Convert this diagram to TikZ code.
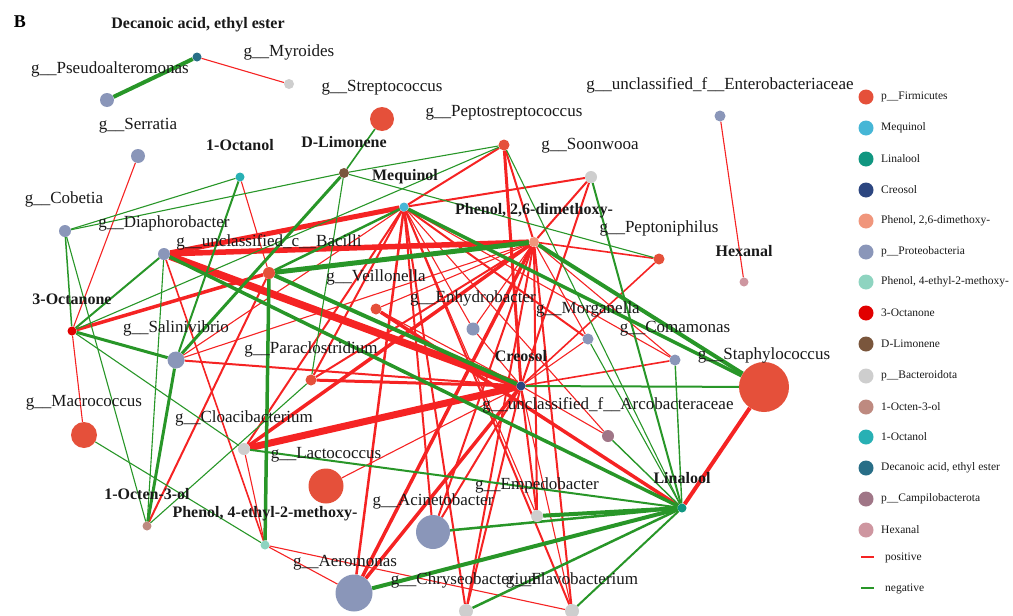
\documentclass[tikz,border=0pt]{standalone}
\usepackage{fontspec}
\setmainfont{Liberation Serif}
\usetikzlibrary{backgrounds}
\definecolor{firmc}{RGB}{229,80,58}
\definecolor{protc}{RGB}{138,150,185}
\definecolor{bactc}{RGB}{206,206,206}
\definecolor{campc}{RGB}{160,118,135}
\definecolor{meqc}{RGB}{70,182,214}
\definecolor{linc}{RGB}{16,150,128}
\definecolor{crec}{RGB}{44,70,128}
\definecolor{dmpc}{RGB}{240,150,124}
\definecolor{ethc}{RGB}{142,212,192}
\definecolor{ocnc}{RGB}{225,0,0}
\definecolor{limc}{RGB}{122,86,60}
\definecolor{oenc}{RGB}{190,138,128}
\definecolor{octc}{RGB}{40,176,180}
\definecolor{decc}{RGB}{40,110,135}
\definecolor{hexc}{RGB}{206,150,160}
\definecolor{posc}{RGB}{245,35,35}
\definecolor{negc}{RGB}{40,150,40}
\definecolor{txtc}{RGB}{25,25,25}
\tikzset{
  vtx/.style={circle, inner sep=0pt, minimum size=#1},
  vtx/.default=10pt,
  gen/.style={font=\fontsize{17}{19}\selectfont, text=txtc, inner sep=0pt},
  cpd/.style={font=\fontsize{16}{18}\selectfont\bfseries, text=txtc, inner sep=0pt},
  key/.style={font=\fontsize{11.5}{13}\selectfont, text=txtc, inner sep=0pt, anchor=west},
  posedge/.style={draw=posc, line width=#1},
  posedge/.default=1.1pt,
  negedge/.style={draw=negc, line width=#1},
  negedge/.default=1.1pt
}

\begin{document}
\begin{tikzpicture}[x=1pt,y=-1pt]
  \useasboundingbox (0,0) rectangle (1013,616);
  \node[font=\fontsize{18}{20}\selectfont\bfseries, inner sep=0pt] (figB) at (20,22) {B};

  % compounds
  \node[vtx=9pt, fill=decc] (dec) at (197,57) {};
  \node[vtx=9pt, fill=hexc] (hex) at (744,282) {};
  \node[vtx=9pt, fill=octc] (oct) at (240,177) {};
  \node[vtx=10pt, fill=limc] (lim) at (344,173) {};
  \node[vtx=9pt, fill=meqc] (meq) at (404,207) {};
  \node[vtx=10pt, fill=dmpc] (dmp) at (534,242) {};
  \node[vtx=9pt, fill=ocnc] (ocn) at (72,331) {};
  \node[vtx=9pt, fill=crec] (cre) at (521,386) {};
  \node[vtx=9pt, fill=linc] (lin) at (682,508) {};
  \node[vtx=9pt, fill=oenc] (oen) at (147,526) {};
  \node[vtx=9pt, fill=ethc] (eth) at (265,545) {};

  % genera
  \node[vtx=10pt, fill=bactc] (myr) at (289,84) {};
  \node[vtx=14pt, fill=protc] (pse) at (107,100) {};
  \node[vtx=14pt, fill=protc] (ser) at (138,156) {};
  \node[vtx=24pt, fill=firmc] (str) at (382,119) {};
  \node[vtx=11pt, fill=firmc] (pep) at (504,145) {};
  \node[vtx=11pt, fill=protc] (ent) at (720,116) {};
  \node[vtx=12pt, fill=bactc] (soo) at (591,177) {};
  \node[vtx=11pt, fill=firmc] (ptn) at (659,259) {};
  \node[vtx=12pt, fill=protc] (cob) at (65,231) {};
  \node[vtx=12pt, fill=protc] (dia) at (164,254) {};
  \node[vtx=12pt, fill=firmc] (bac) at (269,273) {};
  \node[vtx=11pt, fill=firmc] (vei) at (376,309) {};
  \node[vtx=13pt, fill=protc] (enh) at (473,329) {};
  \node[vtx=11pt, fill=protc] (mor) at (588,339) {};
  \node[vtx=11pt, fill=protc] (com) at (675,360) {};
  \node[vtx=50pt, fill=firmc] (sta) at (764,387) {};
  \node[vtx=17pt, fill=protc] (sal) at (176,360) {};
  \node[vtx=11pt, fill=firmc] (par) at (311,380) {};
  \node[vtx=12pt, fill=campc] (arc) at (608,436) {};
  \node[vtx=26pt, fill=firmc] (mac) at (84,435) {};
  \node[vtx=12pt, fill=bactc] (clo) at (244,449) {};
  \node[vtx=35pt, fill=firmc] (lac) at (326,486) {};
  \node[vtx=12pt, fill=bactc] (emp) at (537,516) {};
  \node[vtx=34pt, fill=protc] (aci) at (433,532) {};
  \node[vtx=37pt, fill=protc] (aer) at (354,593) {};
  \node[vtx=14pt, fill=bactc] (chr) at (466,611) {};
  \node[vtx=14pt, fill=bactc] (fla) at (572,611) {};

  % labels
  \node[cpd] (tdec) at (198,25) {Decanoic acid, ethyl ester};
  \node[cpd] (thex) at (744,251) {Hexanal};
  \node[cpd] (toct) at (240,145) {1-Octanol};
  \node[cpd] (tlim) at (344,142) {D-Limonene};
  \node[cpd] (tmeq) at (405,177) {Mequinol};
  \node[cpd] (tdmp) at (534,211) {Phenol, 2,6-dimethoxy-};
  \node[cpd] (tocn) at (72,299) {3-Octanone};
  \node[cpd] (tcre) at (521,356) {Creosol};
  \node[cpd] (tlin) at (682,478) {Linalool};
  \node[cpd] (toen) at (147,494) {1-Octen-3-ol};
  \node[cpd] (teth) at (265,514) {Phenol, 4-ethyl-2-methoxy-};
  \node[gen] (tmyr) at (289,52) {g\_\_Myroides};
  \node[gen] (tpse) at (110,69) {g\_\_Pseudoalteromonas};
  \node[gen] (tser) at (138,126) {g\_\_Serratia};
  \node[gen] (tstr) at (382,88) {g\_\_Streptococcus};
  \node[gen] (tpep) at (504,113) {g\_\_Peptostreptococcus};
  \node[gen] (tent) at (720,85) {g\_\_unclassified\_f\_\_Enterobacteriaceae};
  \node[gen] (tsoo) at (590,146) {g\_\_Soonwooa};
  \node[gen] (tptn) at (659,228) {g\_\_Peptoniphilus};
  \node[gen] (tcob) at (64,199) {g\_\_Cobetia};
  \node[gen] (tdia) at (164,223) {g\_\_Diaphorobacter};
  \node[gen] (tbac) at (269,242) {g\_\_unclassified\_c\_\_Bacilli};
  \node[gen] (tvei) at (376,277) {g\_\_Veillonella};
  \node[gen] (tenh) at (473,298) {g\_\_Enhydrobacter};
  \node[gen] (tmor) at (588,309) {g\_\_Morganella};
  \node[gen] (tcom) at (675,329) {g\_\_Comamonas};
  \node[gen] (tsta) at (764,355) {g\_\_Staphylococcus};
  \node[gen] (tsal) at (176,328) {g\_\_Salinivibrio};
  \node[gen] (tpar) at (311,349) {g\_\_Paraclostridium};
  \node[gen] (tarc) at (608,405) {g\_\_unclassified\_f\_\_Arcobacteraceae};
  \node[gen] (tmac) at (84,403) {g\_\_Macrococcus};
  \node[gen] (tclo) at (244,418) {g\_\_Cloacibacterium};
  \node[gen] (tlac) at (326,455) {g\_\_Lactococcus};
  \node[gen] (temp) at (537,485) {g\_\_Empedobacter};
  \node[gen] (taci) at (433,501) {g\_\_Acinetobacter};
  \node[gen] (taer) at (345,563) {g\_\_Aeromonas};
  \node[gen] (tchr) at (466,580) {g\_\_Chryseobacterium};
  \node[gen] (tfla) at (572,580) {g\_\_Flavobacterium};

  \begin{scope}[on background layer]
    % positive
    \draw[posedge] (dec) -- (myr);
    \draw[posedge] (hex) -- (ent);
    \draw[posedge] (ser) -- (ocn);
    \draw[posedge] (ocn) -- (mac);
    \draw[posedge=3.5pt] (ocn) -- (bac);
    \draw[posedge] (oct) -- (bac);
    \draw[posedge=2pt] (oen) -- (bac);
    \draw[posedge=1.6pt] (dia) -- (eth);
    \draw[posedge] (clo) -- (eth);
    \draw[posedge] (eth) -- (aer);
    \draw[posedge] (eth) -- (fla);
    \draw[posedge=5pt] (dia) -- (meq);
    \draw[posedge=5.5pt] (dia) -- (dmp);
    \draw[posedge=7.5pt] (dia) -- (cre);
    \draw[posedge=2pt] (meq) -- (soo);
    \draw[posedge=2pt] (meq) -- (pep);
    \draw[posedge=2pt] (meq) -- (mor);
    \draw[posedge] (meq) -- (com);
    \draw[posedge] (meq) -- (enh);
    \draw[posedge=2pt] (meq) -- (clo);
    \draw[posedge=2.5pt] (meq) -- (aer);
    \draw[posedge=2pt] (meq) -- (chr);
    \draw[posedge=2pt] (meq) -- (fla);
    \draw[posedge] (meq) -- (emp);
    \draw[posedge=2pt] (meq) -- (par);
    \draw[posedge] (meq) -- (arc);
    \draw[posedge] (meq) -- (sal);
    \draw[posedge=2pt] (meq) -- (aci);
    \draw[posedge=2pt] (dmp) -- (soo);
    \draw[posedge=2pt] (dmp) -- (pep);
    \draw[posedge=1.6pt] (dmp) -- (ptn);
    \draw[posedge] (dmp) -- (mor);
    \draw[posedge] (dmp) -- (com);
    \draw[posedge] (dmp) -- (enh);
    \draw[posedge] (dmp) -- (sal);
    \draw[posedge] (dmp) -- (vei);
    \draw[posedge=3.5pt] (dmp) -- (clo);
    \draw[posedge=3.5pt] (dmp) -- (aer);
    \draw[posedge=2pt] (dmp) -- (aci);
    \draw[posedge=2pt] (dmp) -- (emp);
    \draw[posedge=2pt] (dmp) -- (chr);
    \draw[posedge=2pt] (dmp) -- (fla);
    \draw[posedge=2pt] (dmp) -- (par);
    \draw[posedge=7pt] (cre) -- (clo);
    \draw[posedge=2pt] (cre) -- (sal);
    \draw[posedge=3pt] (cre) -- (par);
    \draw[posedge] (cre) -- (vei);
    \draw[posedge] (cre) -- (enh);
    \draw[posedge] (cre) -- (mor);
    \draw[posedge=1.6pt] (cre) -- (com);
    \draw[posedge=1.6pt] (cre) -- (ptn);
    \draw[posedge=3pt] (cre) -- (pep);
    \draw[posedge=2pt] (cre) -- (soo);
    \draw[posedge] (cre) -- (lac);
    \draw[posedge] (cre) -- (arc);
    \draw[posedge=3.5pt] (cre) -- (aer);
    \draw[posedge=2pt] (cre) -- (aci);
    \draw[posedge=2pt] (cre) -- (chr);
    \draw[posedge=2pt] (cre) -- (emp);
    \draw[posedge] (cre) -- (fla);
    \draw[posedge=3.5pt] (vei) -- (lin);
    \draw[posedge=4pt] (lin) -- (sta);
    % negative
    \draw[negedge=4pt] (dec) -- (pse);
    \draw[negedge] (cob) -- (oct);
    \draw[negedge] (cob) -- (lim);
    \draw[negedge=1.5pt] (cob) -- (ocn);
    \draw[negedge] (cob) -- (oen);
    \draw[negedge=2pt] (ocn) -- (dia);
    \draw[negedge=3pt] (ocn) -- (sal);
    \draw[negedge] (ocn) -- (clo);
    \draw[negedge] (ocn) -- (pep);
    \draw[negedge=2pt] (oct) -- (sal);
    \draw[negedge=3pt] (lim) -- (sal);
    \draw[negedge] (lim) -- (par);
    \draw[negedge=1.6pt] (lim) -- (str);
    \draw[negedge] (lim) -- (pep);
    \draw[negedge] (lim) -- (ptn);
    \draw[negedge] (oen) -- (dia);
    \draw[negedge=3pt] (oen) -- (sal);
    \draw[negedge] (oen) -- (par);
    \draw[negedge] (mac) -- (eth);
    \draw[negedge=2.5pt] (bac) -- (meq);
    \draw[negedge=5pt] (bac) -- (dmp);
    \draw[negedge=4pt] (bac) -- (cre);
    \draw[negedge=3.5pt] (bac) -- (eth);
    \draw[negedge=3.5pt] (dia) -- (lin);
    \draw[negedge=3.5pt] (meq) -- (sta);
    \draw[negedge=4pt] (dmp) -- (sta);
    \draw[negedge=2pt] (cre) -- (sta);
    \draw[negedge=2pt] (soo) -- (lin);
    \draw[negedge] (pep) -- (lin);
    \draw[negedge] (mor) -- (lin);
    \draw[negedge=1.4pt] (com) -- (lin);
    \draw[negedge=1.4pt] (arc) -- (lin);
    \draw[negedge=2pt] (clo) -- (lin);
    \draw[negedge=4pt] (emp) -- (lin);
    \draw[negedge=2.5pt] (aci) -- (lin);
    \draw[negedge=4pt] (aer) -- (lin);
    \draw[negedge=2.5pt] (chr) -- (lin);
    \draw[negedge=2pt] (fla) -- (lin);
  \end{scope}

  % legend
  \node[vtx=15pt, fill=firmc] (k1) at (866,97) {};
  \node[key] (k1t) at (881,97) {p\_\_Firmicutes};
  \node[vtx=15pt, fill=meqc] (k2) at (866,128) {};
  \node[key] (k2t) at (881,128) {Mequinol};
  \node[vtx=15pt, fill=linc] (k3) at (866,159) {};
  \node[key] (k3t) at (881,159) {Linalool};
  \node[vtx=15pt, fill=crec] (k4) at (866,190) {};
  \node[key] (k4t) at (881,190) {Creosol};
  \node[vtx=15pt, fill=dmpc] (k5) at (866,221) {};
  \node[key] (k5t) at (881,221) {Phenol, 2,6-dimethoxy-};
  \node[vtx=15pt, fill=protc] (k6) at (866,252) {};
  \node[key] (k6t) at (881,252) {p\_\_Proteobacteria};
  \node[vtx=15pt, fill=ethc] (k7) at (866,282) {};
  \node[key] (k7t) at (881,282) {Phenol, 4-ethyl-2-methoxy-};
  \node[vtx=15pt, fill=ocnc] (k8) at (866,313) {};
  \node[key] (k8t) at (881,313) {3-Octanone};
  \node[vtx=15pt, fill=limc] (k9) at (866,344) {};
  \node[key] (k9t) at (881,344) {D-Limonene};
  \node[vtx=15pt, fill=bactc] (k10) at (866,376) {};
  \node[key] (k10t) at (881,376) {p\_\_Bacteroidota};
  \node[vtx=15pt, fill=oenc] (k11) at (866,407) {};
  \node[key] (k11t) at (881,407) {1-Octen-3-ol};
  \node[vtx=15pt, fill=octc] (k12) at (866,437) {};
  \node[key] (k12t) at (881,437) {1-Octanol};
  \node[vtx=15pt, fill=decc] (k13) at (866,468) {};
  \node[key] (k13t) at (881,468) {Decanoic acid, ethyl ester};
  \node[vtx=15pt, fill=campc] (k14) at (866,499) {};
  \node[key] (k14t) at (881,499) {p\_\_Campilobacterota};
  \node[vtx=15pt, fill=hexc] (k15) at (866,530) {};
  \node[key] (k15t) at (881,530) {Hexanal};
  \coordinate (kp1) at (861,557);
  \coordinate (kp2) at (874,557);
  \draw[posedge] (kp1) -- (kp2);
  \node[key] (kpt) at (885,558) {positive};
  \coordinate (kn1) at (861,588);
  \coordinate (kn2) at (874,588);
  \draw[negedge] (kn1) -- (kn2);
  \node[key] (knt) at (885,589) {negative};
\end{tikzpicture}
\end{document}
